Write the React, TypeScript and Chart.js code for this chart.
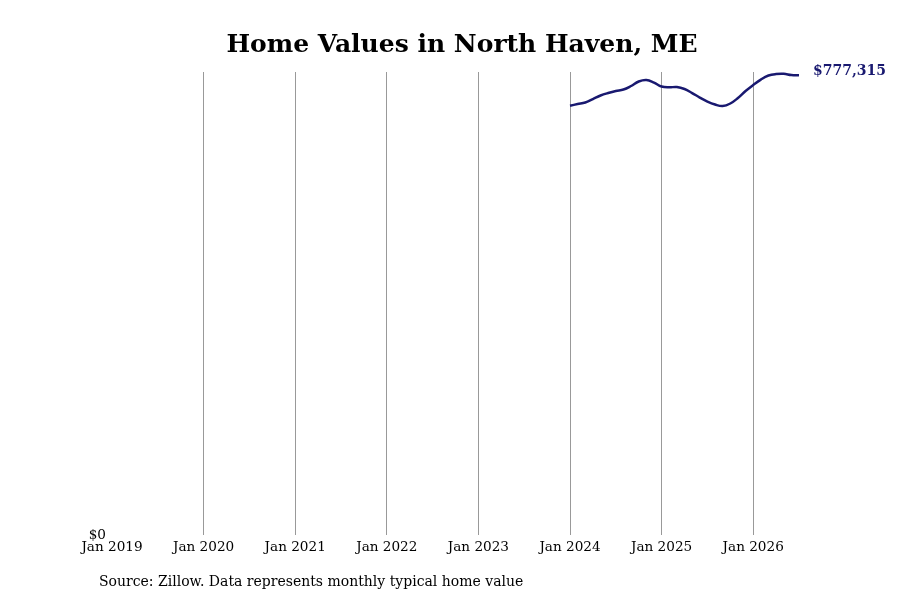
import React, { useRef, useEffect } from 'react';
import { Chart, registerables } from 'chart.js';

Chart.register(...registerables);

// 月份标签：2019年1月到2026年7月
const monthNames = ['Jan', 'Feb', 'Mar', 'Apr', 'May', 'Jun', 'Jul', 'Aug', 'Sep', 'Oct', 'Nov', 'Dec'];
const years = [2019, 2020, 2021, 2022, 2023, 2024, 2025, 2026];
const labels: string[] = [];
years.forEach((y) => {
  monthNames.forEach((m, i) => {
    if (y === 2026 && i > 6) return;
    labels.push(`${m} ${y}`);
  });
});

// 2024年1月起的典型房价
const homeValues2024on = [
  726000, 728800, 731400, 737300, 743200, 747400, 750800, 753300, 759300, 766900, 769400, 765200,
  758400, 757100, 757600, 754200, 747400, 739800, 733000, 728000, 725400, 729700, 739000, 750800,
  760900, 770200, 777000, 779500, 779900, 777900, 777315,
];
const homeValues: (number | null)[] = labels.map((_, i) => {
  const k = i - (labels.length - homeValues2024on.length);
  return k >= 0 ? homeValues2024on[k] : null;
});

const titleText = 'Home Values in North Haven, ME';
const sourceText = 'Source: Zillow. Data represents monthly typical home value';
const lineColor = '#191970';
const font = 'DejaVu Serif';

const textPlugin = {
  id: 'texts',
  afterDraw(chart: any) {
    const ctx = chart.ctx;
    ctx.save();
    ctx.fillStyle = '#000';
    ctx.textBaseline = 'middle';
    ctx.textAlign = 'center';
    ctx.font = `bold 25px "${font}"`;
    ctx.fillText(titleText, 462, 45);
    ctx.textAlign = 'left';
    ctx.font = `14px "${font}"`;
    ctx.fillText(sourceText, 99, 582);
    // 最后一个数值标注
    const meta = chart.getDatasetMeta(0);
    const last = meta.data[meta.data.length - 1];
    const v = homeValues2024on[homeValues2024on.length - 1];
    ctx.fillStyle = lineColor;
    ctx.font = `bold 14px "${font}"`;
    ctx.fillText('$' + v.toLocaleString('en-US'), last.x + 14, last.y - 4);
    ctx.restore();
  },
};

const App: React.FC = () => {
  const chartRef = useRef<HTMLCanvasElement>(null);
  const chartInstance = useRef<Chart | null>(null);

  useEffect(() => {
    if (!chartRef.current) return;
    if (chartInstance.current) chartInstance.current.destroy();

    chartInstance.current = new Chart(chartRef.current, {
      type: 'line',
      data: {
        labels,
        datasets: [
          {
            data: homeValues,
            borderColor: lineColor,
            borderWidth: 2.5,
            pointRadius: 0,
            tension: 0.4,
            fill: false,
          },
        ],
      },
      options: {
        animation: false,
        responsive: true,
        maintainAspectRatio: false,
        layout: { padding: { top: 72, right: 101, left: 0, bottom: 0 } },
        plugins: { legend: { display: false }, tooltip: { enabled: false } },
        scales: {
          x: {
            offset: false,
            border: { display: false },
            grid: {
              drawTicks: false,
              color: (c: any) =>
                c.index > 0 && c.index % 12 === 0 ? '#999999' : 'transparent',
              lineWidth: 1,
            },
            ticks: {
              autoSkip: false,
              maxRotation: 0,
              padding: 4,
              color: '#000',
              font: { family: font, size: 13.6 },
              callback: function (this: any, value: any, index: number) {
                return index % 12 === 0 ? labels[index] : '';
              },
            },
            afterFit: (s: any) => {
              s.height = 65;
            },
          },
          y: {
            min: 0,
            max: 783000,
            border: { display: false },
            grid: { display: false, drawTicks: false },
            ticks: {
              padding: 6,
              color: '#000',
              font: { family: font, size: 13.6 },
              callback: (v: any) => (v === 0 ? '$0' : ''),
            },
            afterFit: (s: any) => {
              s.width = 112;
            },
          },
        },
      },
      plugins: [textPlugin],
    });

    return () => {
      if (chartInstance.current) chartInstance.current.destroy();
    };
  }, []);

  return (
    <div style={{ position: 'absolute', left: 0, top: 0, width: 900, height: 600, background: '#fff' }}>
      <canvas ref={chartRef}></canvas>
    </div>
  );
};

export default App;
